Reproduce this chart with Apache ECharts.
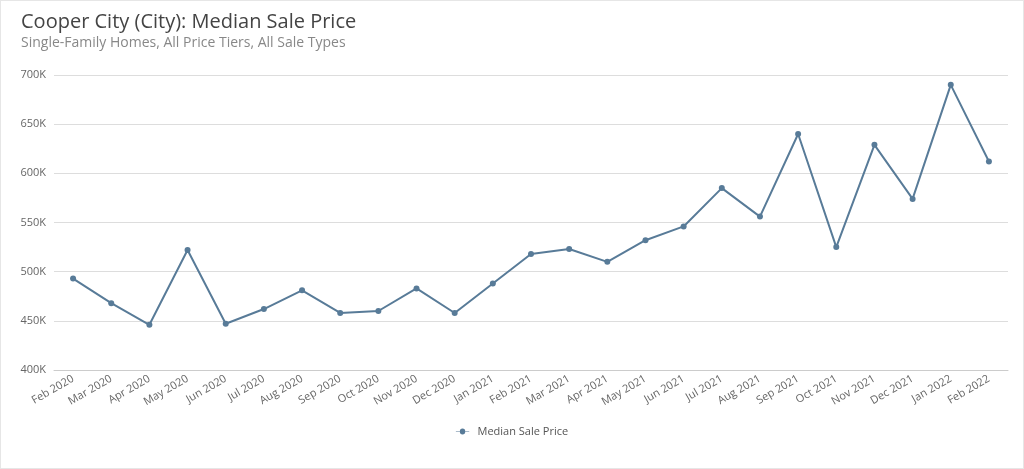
<!DOCTYPE html>
<html><head><meta charset="utf-8">
<script src="https://cdn.jsdelivr.net/npm/echarts@6/dist/echarts.min.js"></script>
<style>html,body{margin:0;padding:0;background:#fff}#c{width:1024px;height:469px;box-sizing:border-box;border:1px solid #e6e6e6}</style>
</head><body><div id="c"></div>
<script>
const categories=['Feb 2020','Mar 2020','Apr 2020','May 2020','Jun 2020','Jul 2020','Aug 2020','Sep 2020','Oct 2020','Nov 2020','Dec 2020','Jan 2021','Feb 2021','Mar 2021','Apr 2021','May 2021','Jun 2021','Jul 2021','Aug 2021','Sep 2021','Oct 2021','Nov 2021','Dec 2021','Jan 2022','Feb 2022'];
const medianSalePrice=[493000,468000,446000,522000,447000,462000,481000,458000,460000,483000,458000,488000,518000,523000,510000,532000,546000,585000,556000,640000,525000,629000,574000,690000,612000];
const chart=echarts.init(document.getElementById('c'));
chart.setOption({
  title:{text:'Cooper City (City): Median Sale Price',subtext:'Single-Family Homes, All Price Tiers, All Sale Types',left:15,top:6,itemGap:4,
    textStyle:{fontFamily:'Open Sans',fontSize:20,fontWeight:'normal',color:'#444'},
    subtextStyle:{fontFamily:'Open Sans',fontSize:14,color:'#888'}},
  legend:{bottom:26,icon:'circle',itemWidth:20,itemHeight:6,textStyle:{fontFamily:'Open Sans',fontSize:11,color:'#555'},
    data:[{name:'Median Sale Price',icon:'path://M0,4L6,4A3,3 0 1 1 14,4L20,4L20,5L14,5A3,3 0 1 1 6,5L0,5Z'}]},
  grid:{left:53,right:15,top:74,bottom:98},
  xAxis:{type:'category',data:categories,boundaryGap:true,
    axisLine:{lineStyle:{color:'#ccc'}},axisTick:{show:false},
    axisLabel:{rotate:30,fontFamily:'Open Sans',fontSize:11,color:'#666',interval:0,margin:8}},
  yAxis:{type:'value',min:400000,max:700000,interval:50000,
    axisLabel:{formatter:v=>(v/1000)+'K',fontFamily:'Open Sans',fontSize:11,color:'#666'},
    splitLine:{lineStyle:{color:'#ddd'}},axisLine:{show:false},axisTick:{show:false}},
  series:[{name:'Median Sale Price',type:'line',data:medianSalePrice,symbol:'circle',symbolSize:6,
    itemStyle:{color:'#587b98'},lineStyle:{color:'#587b98',width:2}}]
});
</script></body></html>
